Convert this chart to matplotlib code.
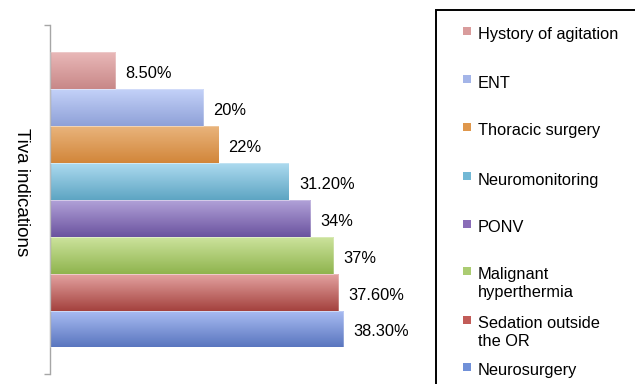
import numpy as np
import matplotlib
matplotlib.use("Agg")
import matplotlib.pyplot as plt
from matplotlib.patches import Rectangle

plt.rcParams['font.family'] = ['Liberation Sans', 'DejaVu Sans']

# Data (top to bottom)
categories = ["Hystory of agitation", "ENT", "Thoracic surgery", "Neuromonitoring",
              "PONV", "Malignant\nhyperthermia", "Sedation outside\nthe OR", "Neurosurgery"]
values = [8.5, 20, 22, 31.2, 34, 37, 37.6, 38.3]

# Gradient colours per bar: (top, bottom), plus legend swatch colour
grad_top = ["#e9b8b8", "#c3d1f8", "#e9b47c", "#acdaef", "#b1a1d8", "#cce39c", "#e3a2a0", "#aabdf3"]
grad_bot = ["#c88888", "#8fa1d8", "#d2863a", "#5ea5c3", "#6b539f", "#8fb44e", "#a4423e", "#5a76bf"]
swatch = ["#d99c9c", "#a4b5e8", "#df974c", "#72b8d5", "#8a6db8", "#abcc72", "#c25c58", "#7090d8"]

W, H = 635, 384
fig = plt.figure(figsize=(W / 100, H / 100), dpi=100)
ax = fig.add_axes([50 / W, 10 / H, 380 / W, 349 / H])

n = len(values)
y = np.arange(n)
ax.set_xlim(0, 380 / 7.66)
ax.set_ylim(n - 0.5 + 0.72, -0.5 - 0.74)

bars = ax.barh(y, values, height=1.0, color="none", edgecolor="none")
for i, (b, v) in enumerate(zip(bars, values)):
    c0 = np.array(matplotlib.colors.to_rgb(grad_top[i]))
    c1 = np.array(matplotlib.colors.to_rgb(grad_bot[i]))
    t = np.linspace(0, 1, 64)[:, None]
    img = (c0 * (1 - t) + c1 * t)[:, None, :]
    im = ax.imshow(img, extent=(0, v, i + 0.5, i - 0.5), origin="upper",
                   aspect="auto", interpolation="bilinear", zorder=2)
    im.set_clip_path(b)
    # thin light outline
    ax.add_patch(Rectangle((0, i - 0.5), v, 1.0, fill=False,
                           edgecolor=(1, 1, 1, 0.3), linewidth=0.6, zorder=3))
    label = f"{v:.0f}%" if float(v).is_integer() else f"{v:.2f}%"
    ax.annotate(label, xy=(v, i), xytext=(10, -3), textcoords="offset pixels",
                ha="left", va="center", fontsize=11.8, color="black")

ax.set_xlim(0, 380 / 7.66)
ax.set_ylim(n - 0.5 + 0.72, -0.5 - 0.74)

for s in ["top", "right", "bottom"]:
    ax.spines[s].set_visible(False)
ax.spines["left"].set_color("#a6a6a6")
ax.spines["left"].set_linewidth(1.0)
ax.set_xticks([])
ax.set_yticks(ax.get_ylim())
ax.set_yticklabels([])
ax.tick_params(axis="y", length=4.3, color="#a6a6a6", width=1.0)

fig.text(21 / W, 1 - 192 / H, "Tiva indications", rotation=-90,
         ha="center", va="center", fontsize=13.5)

# Legend box
fig.patches.append(Rectangle((435.5 / W, -0.1), 0.5, (H - 10) / H + 0.1,
                             transform=fig.transFigure, fill=False,
                             edgecolor="black", linewidth=1.4))
legend_y = [33, 81, 129, 178, 226, 273, 322, 369]
for lab, col, ly in zip(categories, swatch, legend_y):
    fig.patches.append(Rectangle((463 / W, 1 - (ly + 2) / H), 8 / W, 8 / H,
                                 transform=fig.transFigure, facecolor=col,
                                 edgecolor="none"))
    for k, line in enumerate(lab.split("\n")):
        fig.text(477.5 / W, 1 - (ly + 2 + 17 * k) / H, line, ha="left",
                 va="center", fontsize=11.8)

fig.savefig("out.png", dpi=100)
